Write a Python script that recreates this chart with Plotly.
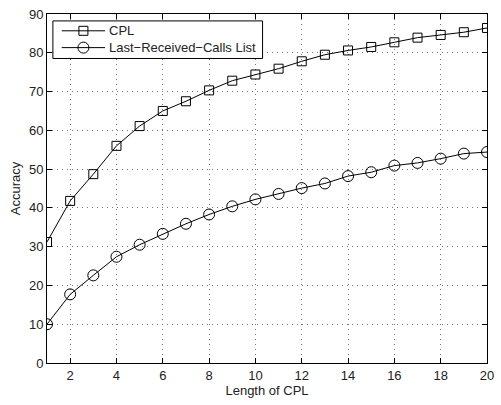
import plotly.graph_objects as go

lengths = list(range(1, 21))
cpl = [31.2, 41.8, 48.7, 56.0, 61.1, 65.0, 67.5, 70.3, 72.8, 74.4,
       75.9, 77.8, 79.5, 80.6, 81.5, 82.7, 83.9, 84.6, 85.3, 86.4]
last_received = [10.0, 17.7, 22.6, 27.4, 30.5, 33.3, 35.9, 38.3, 40.4, 42.2,
                 43.6, 45.1, 46.3, 48.2, 49.2, 50.9, 51.6, 52.7, 54.0, 54.4]
series_names = ["CPL", "Last\u2212Received\u2212Calls List"]
x_ticks = list(range(2, 21, 2))
y_ticks = list(range(0, 91, 10))

fig = go.Figure()
fig.add_trace(go.Scatter(
    x=lengths, y=cpl, mode="lines+markers", name=series_names[0],
    line=dict(color="black", width=1),
    marker=dict(symbol="square-open", size=9, color="black", line=dict(width=1))))
fig.add_trace(go.Scatter(
    x=lengths, y=last_received, mode="lines+markers", name=series_names[1],
    line=dict(color="black", width=1),
    marker=dict(symbol="circle-open", size=11, color="black", line=dict(width=1))))

axis_common = dict(
    showline=True, linecolor="black", linewidth=1, mirror="allticks",
    ticks="inside", ticklen=5, tickcolor="black",
    showgrid=True, gridcolor="#777777", griddash="1px,4px", gridwidth=1,
    zeroline=False, tickfont=dict(size=13, color="#222222"),
)
fig.update_xaxes(range=[1, 20], tickvals=x_ticks,
                 title=dict(text="Length of CPL", font=dict(size=13, color="#222222"), standoff=3),
                 **axis_common)
fig.update_yaxes(range=[0, 90], tickvals=y_ticks,
                 title=dict(text="Accuracy", font=dict(size=13, color="#222222"), standoff=5),
                 **axis_common)

# Manual MATLAB-style legend (paper coordinates of the plot area)
L, T, W, H = 47, 10, 447, 353
def px(x):
    return (x - L) / W
def py(y):
    return (T + H - y) / H

shapes = [dict(type="rect", xref="paper", yref="paper",
               x0=px(53), x1=px(266), y0=py(55), y1=py(17),
               line=dict(color="black", width=1), fillcolor="white", layer="above")]
annotations = []
rows = [(27, "square"), (44, "circle")]
for (yy, kind), name in zip(rows, series_names):
    shapes.append(dict(type="line", xref="paper", yref="paper",
                       x0=px(62), x1=px(106), y0=py(yy), y1=py(yy),
                       line=dict(color="black", width=1), layer="above"))
    half = 4.5 if kind == "square" else 5.5
    shapes.append(dict(type="rect" if kind == "square" else "circle",
                       xref="paper", yref="paper",
                       xsizemode="pixel", ysizemode="pixel",
                       xanchor=px(84), yanchor=py(yy),
                       x0=-half, x1=half, y0=-half, y1=half,
                       line=dict(color="black", width=1), fillcolor="rgba(0,0,0,0)",
                       layer="above"))
    annotations.append(dict(xref="paper", yref="paper", x=px(108), y=py(yy),
                            xanchor="left", yanchor="middle", showarrow=False,
                            text=name, font=dict(size=13, color="#222222")))

fig.update_layout(
    width=501, height=405,
    margin=dict(l=L, r=501 - L - W, t=T, b=405 - T - H),
    paper_bgcolor="white", plot_bgcolor="white",
    font=dict(family="Liberation Sans, Arial, sans-serif", size=13, color="#222222"),
    showlegend=False,
    shapes=shapes, annotations=annotations,
)

fig.write_html("out.html")
